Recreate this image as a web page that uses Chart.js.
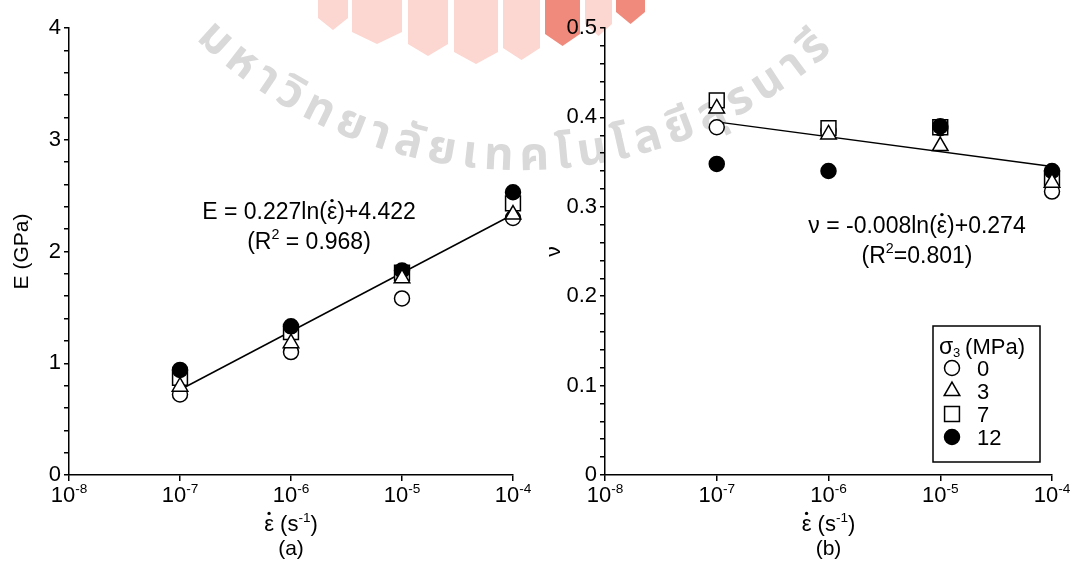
<!DOCTYPE html>
<html>
<head>
<meta charset="utf-8">
<script src="https://cdn.jsdelivr.net/npm/chart.js@4.4.0/dist/chart.umd.min.js"></script>
<style>
  body { margin: 0; background: #fff; }
  #wrap { position: relative; width: 1074px; height: 564px; overflow: hidden; }
  #mark { position: absolute; left: 0; top: 0; }
  .panel { position: absolute; top: 0; width: 537px; height: 564px; }
</style>
</head>
<body>
<div id="wrap">
  <canvas id="mark" width="1074" height="564"></canvas>
  <div class="panel" style="left:0"><canvas id="chartA" width="537" height="564"></canvas></div>
  <div class="panel" style="left:537px"><canvas id="chartB" width="537" height="564"></canvas></div>
</div>
<script>
// strain rates (1/s) and confining pressures
const rates = [1e-7, 1e-6, 1e-5, 1e-4];
const rateTicks = [1e-8, 1e-7, 1e-6, 1e-5, 1e-4];
const rateExponents = ['-8', '-7', '-6', '-5', '-4'];
const confining = ['0', '3', '7', '12'];

// elastic modulus E (GPa), one array per confining pressure
const modulus0 = [0.72, 1.10, 1.58, 2.30];
const modulus3 = [0.79, 1.18, 1.76, 2.33];
const modulus7 = [0.87, 1.28, 1.81, 2.43];
const modulus12 = [0.94, 1.33, 1.83, 2.53];

// Poisson's ratio
const poisson0 = [0.389, 0.385, 0.388, 0.317];
const poisson3 = [0.410, 0.381, 0.368, 0.327];
const poisson7 = [0.419, 0.388, 0.389, 0.332];
const poisson12 = [0.348, 0.340, 0.390, 0.340];

// regression lines, ends at 1e-7 and 1e-4
const fitRates = [1e-7, 1e-4];
const modulusFit = [0.763, 2.331];
const poissonFit = [0.395, 0.345];

const FONT = "'Liberation Sans', Arial, sans-serif";

// marker look per confining pressure (0, 3, 7, 12 MPa)
const markers = [
    { style: 'circle', radius: 7.5, fill: '#fff', order: 3 },
    { style: 'triangle', radius: 9, fill: '#fff', order: 0 },
    { style: 'rect', radius: 10.5, fill: '#fff', order: 2 },
    { style: 'circle', radius: 7.5, fill: '#000', order: 1 }
];

function buildDatasets(series, fit) {
    const sets = series.map((vals, i) => ({
        type: 'scatter',
        label: confining[i],
        data: rates.map((r, j) => ({ x: r, y: vals[j] })),
        pointStyle: markers[i].style,
        pointRadius: markers[i].radius,
        pointBackgroundColor: markers[i].fill,
        pointBorderColor: '#000',
        pointBorderWidth: 1.5,
        clip: false,
        order: markers[i].order
    }));
    sets.push({
        type: 'line',
        label: 'fit',
        data: fitRates.map((r, j) => ({ x: r, y: fit[j] })),
        borderColor: '#000',
        borderWidth: 1.5,
        pointRadius: 0,
        fill: false,
        clip: false,
        order: 5
    });
    return sets;
}

function isMajor(v, step) {
    return Math.abs(v / step - Math.round(v / step)) < 1e-6;
}

// text with optional superscript pieces and a dot over a letter
function drawRich(ctx, parts, cx, baseline, size) {
    let total = 0;
    parts.forEach(p => {
        ctx.font = (p.sup ? size * 0.62 : size) + 'px ' + FONT;
        p.w = ctx.measureText(p.t).width;
        total += p.w;
    });
    let x = cx - total / 2;
    ctx.textAlign = 'left';
    ctx.textBaseline = 'alphabetic';
    parts.forEach(p => {
        ctx.font = (p.sup ? size * 0.62 : size) + 'px ' + FONT;
        ctx.fillText(p.t, x, baseline - (p.sup ? size * 0.42 : 0));
        if (p.dot) {
            ctx.beginPath();
            ctx.arc(x + p.w / 2, baseline - size * 0.8, size * 0.075, 0, Math.PI * 2);
            ctx.fill();
        }
        x += p.w;
    });
}

function drawMarker(ctx, m, x, y) {
    ctx.beginPath();
    if (m.style === 'circle') {
        ctx.arc(x, y, m.radius, 0, Math.PI * 2);
    } else if (m.style === 'triangle') {
        const r = m.radius;
        ctx.moveTo(x, y - r);
        ctx.lineTo(x + r * 0.866, y + r * 0.5);
        ctx.lineTo(x - r * 0.866, y + r * 0.5);
        ctx.closePath();
    } else {
        const h = m.radius * Math.SQRT1_2;
        ctx.rect(x - h, y - h, 2 * h, 2 * h);
    }
    ctx.fillStyle = m.fill;
    ctx.fill();
    ctx.lineWidth = 1.5;
    ctx.strokeStyle = '#000';
    ctx.stroke();
}

const panelText = {
    id: 'panelText',
    afterDraw(chart, args, opts) {
        const ctx = chart.ctx;
        const xs = chart.scales.x;
        const area = chart.chartArea;
        ctx.save();
        ctx.fillStyle = '#000';

        // x tick labels as powers of ten
        rateTicks.forEach((v, i) => {
            const px = xs.getPixelForValue(v);
            drawRich(ctx, [{ t: '10' }, { t: rateExponents[i], sup: true }], px, area.bottom + 27, 22);
        });

        // x title and panel tag
        const mid = (area.left + area.right) / 2;
        drawRich(ctx, [{ t: '\u03b5', dot: true }, { t: ' (s' }, { t: '-1', sup: true }, { t: ')' }], mid, area.bottom + 56, 22);
        drawRich(ctx, [{ t: opts.tag }], mid, area.bottom + 80, 21);

        // regression equation
        opts.lines.forEach(l => drawRich(ctx, l.parts, l.x, l.y, 23));

        // legend box
        if (opts.legend) {
            const bw = 107, bh = 136;
            const bx = area.right - 12 - bw, by = area.bottom - 13 - bh;
            ctx.lineWidth = 1.5;
            ctx.strokeStyle = '#000';
            ctx.strokeRect(bx, by, bw, bh);
            ctx.fillStyle = '#000';
            ctx.textAlign = 'left';
            ctx.textBaseline = 'alphabetic';
            ctx.font = '23px ' + FONT;
            ctx.fillText('\u03c3', bx + 6, by + 28);
            ctx.font = '13px ' + FONT;
            ctx.fillText('3', bx + 20, by + 31);
            ctx.font = '22px ' + FONT;
            ctx.fillText(' (MPa)', bx + 26, by + 28);
            confining.forEach((c, i) => {
                const y = by + 42 + i * 23;
                drawMarker(ctx, markers[i], bx + 19, y);
                ctx.fillStyle = '#000';
                ctx.font = '22px ' + FONT;
                ctx.textAlign = 'left';
                ctx.textBaseline = 'alphabetic';
                ctx.fillText(c, bx + 44, y + 8);
            });
        }
        ctx.restore();
    }
};

function makeChart(id, series, fit, cfg) {
    const yTicks = [];
    for (let v = 0; v <= cfg.yMax + 1e-9; v += cfg.minorStep) {
        yTicks.push(+v.toFixed(3));
    }
    return new Chart(document.getElementById(id), {
        type: 'scatter',
        data: { datasets: buildDatasets(series, fit) },
        options: {
            responsive: false,
            animation: false,
            events: [],
            layout: { padding: { left: 0, top: 28, right: cfg.padRight, bottom: 0 } },
            plugins: {
                legend: { display: false },
                tooltip: { enabled: false },
                panelText: cfg.text
            },
            scales: {
                x: {
                    type: 'logarithmic',
                    min: 1e-8,
                    max: 1e-4,
                    afterBuildTicks: s => { s.ticks = rateTicks.map(v => ({ value: v })); },
                    afterFit: s => { s.height = 89; },
                    ticks: { autoSkip: false, callback: () => '' },
                    grid: { drawOnChartArea: false, tickLength: 6, color: '#000', lineWidth: 1.5 },
                    border: { color: '#000', width: 1.5 }
                },
                y: {
                    min: 0,
                    max: cfg.yMax,
                    afterBuildTicks: s => { s.ticks = yTicks.map(v => ({ value: v })); },
                    afterFit: s => { s.width = cfg.axisLeft; },
                    ticks: {
                        autoSkip: false,
                        color: '#000',
                        padding: 3,
                        font: { size: 22, family: FONT },
                        callback: v => isMajor(v, cfg.majorStep) ? String(Math.round(v * 1000) / 1000) : ''
                    },
                    grid: { drawOnChartArea: false, tickLength: 5, color: '#000', lineWidth: 1.5 },
                    border: { color: '#000', width: 1.5 },
                    title: {
                        display: true,
                        text: cfg.yTitle,
                        color: '#000',
                        font: { size: 21, family: FONT },
                        padding: { top: cfg.titlePad, bottom: 0 }
                    }
                }
            }
        },
        plugins: [panelText]
    });
}

// faded university watermark behind the charts
function drawWatermark() {
    const c = document.getElementById('mark');
    const ctx = c.getContext('2d');
    const bands = [[318, 348, 30, 0], [352, 402, 44, 0], [408, 448, 56, 0], [454, 498, 64, 0],
                   [503, 540, 60, 0], [545, 580, 46, 1], [585, 612, 36, 0], [616, 645, 24, 1]];
    bands.forEach(b => {
        ctx.beginPath();
        ctx.moveTo(b[0], 0);
        ctx.lineTo(b[1], 0);
        ctx.lineTo(b[1], b[2] - 12);
        ctx.lineTo((b[0] + b[1]) / 2, b[2]);
        ctx.lineTo(b[0], b[2] - 12);
        ctx.closePath();
        ctx.fillStyle = b[3] ? '#f08a7c' : '#fcd6d0';
        ctx.fill();
    });

    const text = 'มหาวิทยาลัยเทคโนโลยีสุรนารี';
    const cx = 520, cy = -297, R = 467;
    ctx.font = "bold 46px 'Noto Sans Thai', 'Loma', 'Garuda', 'Norasi', 'Noto Sans', sans-serif";
    ctx.fillStyle = '#d9d9d9';
    ctx.textAlign = 'center';
    ctx.textBaseline = 'alphabetic';
    let parts;
    if (window.Intl && Intl.Segmenter) {
        parts = Array.from(new Intl.Segmenter('th', { granularity: 'grapheme' }).segment(text), s => s.segment);
    } else {
        parts = Array.from(text);
    }
    const widths = parts.map(p => ctx.measureText(p).width);
    const sum = widths.reduce((a, b) => a + b, 0);
    const span = (86 * Math.PI / 180) * R;
    const gap = (span - sum) / (parts.length - 1);
    let s = -44 * Math.PI / 180 * R;
    parts.forEach((p, i) => {
        const a = (s + widths[i] / 2) / R;
        ctx.save();
        ctx.translate(cx + R * Math.sin(a), cy + R * Math.cos(a));
        ctx.rotate(-a);
        ctx.fillText(p, 0, 0);
        ctx.restore();
        s += widths[i] + gap;
    });
}

drawWatermark();

makeChart('chartA', [modulus0, modulus3, modulus7, modulus12], modulusFit, {
    yMax: 4, majorStep: 1, minorStep: 0.2, yTitle: 'E (GPa)', axisLeft: 69, padRight: 24, titlePad: 10,
    text: {
        tag: '(a)',
        legend: false,
        lines: [
            { x: 309, y: 219, parts: [{ t: 'E = 0.227ln(' }, { t: '\u03b5', dot: true }, { t: ')+4.422' }] },
            { x: 309, y: 249, parts: [{ t: '(R' }, { t: '2', sup: true }, { t: ' = 0.968)' }] }
        ]
    }
});

makeChart('chartB', [poisson0, poisson3, poisson7, poisson12], poissonFit, {
    yMax: 0.5, majorStep: 0.1, minorStep: 0.02, yTitle: '\u03bd', axisLeft: 68, padRight: 22, titlePad: 5,
    text: {
        tag: '(b)',
        legend: true,
        lines: [
            { x: 380, y: 233, parts: [{ t: '\u03bd = -0.008ln(' }, { t: '\u03b5', dot: true }, { t: ')+0.274' }] },
            { x: 380, y: 263, parts: [{ t: '(R' }, { t: '2', sup: true }, { t: '=0.801)' }] }
        ]
    }
});
</script>
</body>
</html>
